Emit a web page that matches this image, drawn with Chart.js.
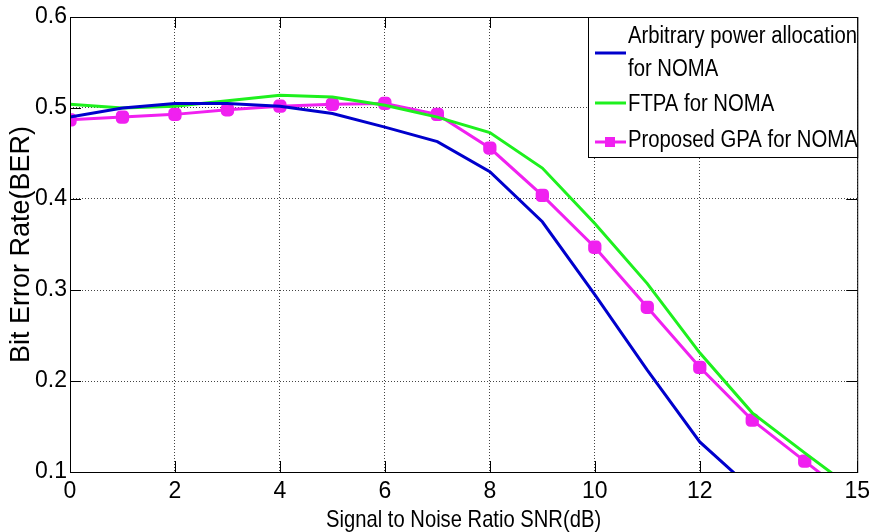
<!DOCTYPE html>
<html>
<head>
<meta charset="utf-8">
<script src="https://cdn.jsdelivr.net/npm/chart.js@4"></script>
<style>
  html, body { margin: 0; padding: 0; background: #fff; }
  #wrap { width: 876px; height: 532px; }
</style>
</head>
<body>
<div id="wrap"><canvas id="berChart" width="876" height="532"></canvas></div>
<script>
const FONT = "'Liberation Sans', Arial, sans-serif";

// SNR (dB) and BER
const snr = [0, 1, 2, 3, 4, 5, 6, 7, 8, 9, 10, 11, 12, 13, 14, 15];
const arbitraryBer = [0.490, 0.500, 0.505, 0.505, 0.502, 0.494, 0.479, 0.463, 0.430, 0.375, 0.295, 0.212, 0.133, 0.081];
const ftpaBer = [0.504, 0.500, 0.502, 0.508, 0.514, 0.512, 0.503, 0.490, 0.473, 0.434, 0.373, 0.307, 0.231, 0.165, 0.121, 0.078];
const gpaBer = [0.487, 0.490, 0.493, 0.498, 0.502, 0.504, 0.505, 0.493, 0.456, 0.404, 0.347, 0.281, 0.215, 0.157, 0.112, 0.067];

const xTicks = [0, 2, 4, 6, 8, 10, 12, 15];
const yTicks = [0.1, 0.2, 0.3, 0.4, 0.5, 0.6];

const seriesNames = ["Arbitrary power allocation\nfor NOMA", "FTPA for NOMA", "Proposed GPA for NOMA"];
const seriesColors = ["#0000cc", "#1ef01e", "#f020f0"];
const xTitle = "Signal to Noise Ratio SNR(dB)";

const toPoints = vals => vals.map((v, i) => ({ x: snr[i], y: v }));

// text squeezed sideways, the original figure uses a condensed face
function narrowText(ctx, text, x, y, sx) {
    ctx.save();
    ctx.translate(x, y);
    ctx.scale(sx, 1);
    ctx.fillText(text, 0, 0);
    ctx.restore();
}

// Matlab-style box with inward ticks, legend and x title
const boxPlugin = {
    id: "box",
    afterDatasetsDraw(chart) {
        const { ctx, chartArea: a, scales } = chart;
        ctx.save();
        ctx.strokeStyle = "#000";
        ctx.lineWidth = 1;
        ctx.strokeRect(a.left + 0.5, a.top + 0.5, a.right - a.left, a.bottom - a.top);
        ctx.beginPath();
        xTicks.forEach(v => {
            const px = Math.round(scales.x.getPixelForValue(v)) + 0.5;
            ctx.moveTo(px, a.bottom); ctx.lineTo(px, a.bottom - 11);
            ctx.moveTo(px, a.top); ctx.lineTo(px, a.top + 11);
        });
        yTicks.forEach(v => {
            const py = Math.round(scales.y.getPixelForValue(v)) + 0.5;
            ctx.moveTo(a.left, py); ctx.lineTo(a.left + 11, py);
            ctx.moveTo(a.right, py); ctx.lineTo(a.right - 11, py);
        });
        ctx.stroke();

        // legend box in the top right corner
        const lx = 588, ly = a.top, lw = a.right - 588, lh = 140;
        ctx.fillStyle = "#fff";
        ctx.fillRect(lx, ly, lw, lh);
        ctx.strokeRect(lx + 0.5, ly + 0.5, lw, lh);
        ctx.font = "23px " + FONT;
        ctx.textBaseline = "middle";
        const sx = 229 / ctx.measureText(seriesNames[0].split("\n")[0]).width;
        const rows = [
            { lines: seriesNames[0].split("\n"), y: [37, 70], sample: 53 },
            { lines: [seriesNames[1]], y: [105], sample: 103 },
            { lines: [seriesNames[2]], y: [141], sample: 142 }
        ];
        rows.forEach((r, i) => {
            ctx.strokeStyle = seriesColors[i];
            ctx.lineWidth = 3;
            ctx.beginPath();
            ctx.moveTo(595, r.sample); ctx.lineTo(626, r.sample);
            ctx.stroke();
            if (i === 2) {
                ctx.fillStyle = seriesColors[i];
                ctx.fillRect(605, r.sample - 5, 10, 10);
            }
            ctx.fillStyle = "#000";
            r.lines.forEach((t, j) => narrowText(ctx, t, 628, r.y[j], sx));
        });

        // x axis title
        ctx.font = "24px " + FONT;
        ctx.textAlign = "center";
        ctx.textBaseline = "middle";
        const tx = 275 / ctx.measureText(xTitle).width;
        narrowText(ctx, xTitle, (a.left + a.right) / 2, 520, tx);
        ctx.restore();
    }
};

new Chart(document.getElementById("berChart"), {
    type: "line",
    data: {
        datasets: [
            {
                label: seriesNames[0],
                data: toPoints(arbitraryBer),
                borderColor: seriesColors[0],
                borderWidth: 3,
                pointRadius: 0
            },
            {
                label: seriesNames[1],
                data: toPoints(ftpaBer),
                borderColor: seriesColors[1],
                borderWidth: 3,
                pointRadius: 0
            },
            {
                label: seriesNames[2],
                data: toPoints(gpaBer),
                borderColor: seriesColors[2],
                backgroundColor: seriesColors[2],
                borderWidth: 3,
                pointStyle: "rectRounded",
                pointRadius: 6
            }
        ]
    },
    options: {
        responsive: false,
        animation: false,
        layout: { padding: { top: 17, right: 15, left: 0, bottom: 0 } },
        plugins: {
            legend: { display: false },
            tooltip: { enabled: false }
        },
        scales: {
            x: {
                type: "linear",
                min: 0,
                max: 15,
                afterBuildTicks: s => { s.ticks = xTicks.map(v => ({ value: v })); },
                afterFit: s => { s.height = 60; },
                grid: { color: "#444", lineWidth: 1, drawTicks: false },
                border: { display: false, dash: [1, 2] },
                ticks: {
                    color: "#000",
                    padding: 6,
                    maxRotation: 0,
                    autoSkip: false,
                    font: { family: FONT, size: 23 }
                }
            },
            y: {
                type: "linear",
                min: 0.1,
                max: 0.6,
                afterBuildTicks: s => { s.ticks = yTicks.map(v => ({ value: v })); },
                afterFit: s => { s.width = 70; },
                grid: { color: "#444", lineWidth: 1, drawTicks: false },
                border: { display: false, dash: [1, 2] },
                ticks: {
                    color: "#000",
                    padding: 3,
                    autoSkip: false,
                    font: { family: FONT, size: 23 },
                    callback: v => v.toFixed(1)
                },
                title: {
                    display: true,
                    text: "Bit Error Rate(BER)",
                    color: "#000",
                    padding: { top: 8, bottom: 0 },
                    font: { family: FONT, size: 27, lineHeight: 1 }
                }
            }
        }
    },
    plugins: [boxPlugin]
});
</script>
</body>
</html>
